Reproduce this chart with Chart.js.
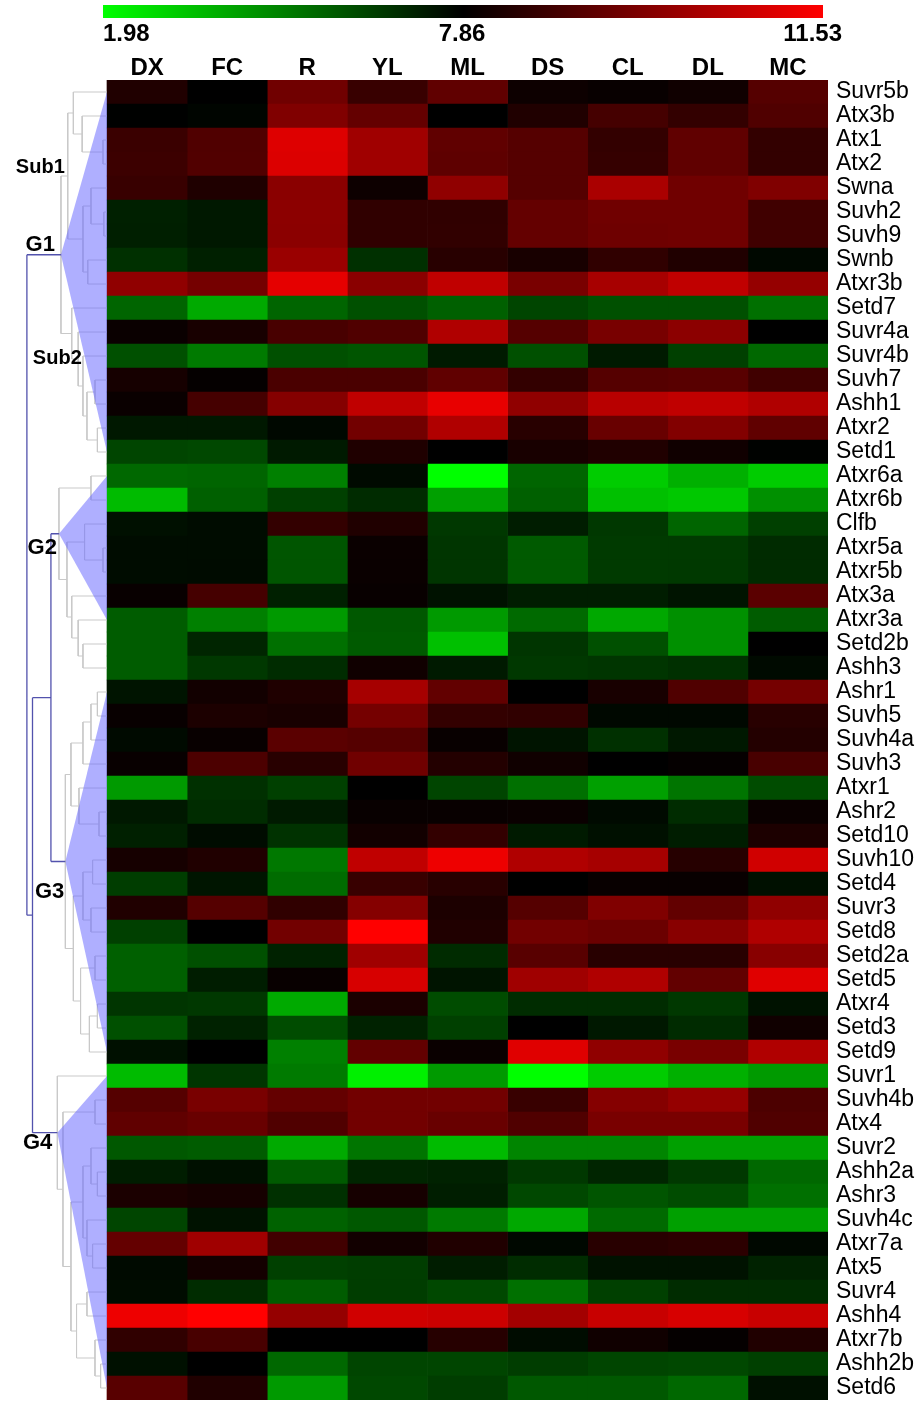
<!DOCTYPE html>
<html>
<head>
<meta charset="utf-8">
<script src="https://cdn.jsdelivr.net/npm/chart.js@4.4.1/dist/chart.umd.min.js"></script>
<style>
  html, body { margin: 0; padding: 0; background: #fff; }
  #wrap { position: relative; width: 924px; height: 1402px; font-family: Arial, "Liberation Sans", sans-serif; }
  #heatmap { position: absolute; left: 0; top: 0; }
  #scaleBar { position: absolute; left: 103px; top: 5px; width: 720px; height: 13px;
              background: linear-gradient(to right, #00ff00, #000000 50%, #ff0000); }
  .scaleLbl { position: absolute; top: 20px; font-weight: bold; font-size: 24px; line-height: 26px; color: #000; }
</style>
</head>
<body>
<div id="wrap">
  <canvas id="heatmap" width="924" height="1402"></canvas>
  <div id="scaleBar"></div>
  <div class="scaleLbl" style="left:103px">1.98</div>
  <div class="scaleLbl" style="left:462px; transform:translateX(-50%)">7.86</div>
  <div class="scaleLbl" style="right:82px">11.53</div>
</div>
<script>
// colour scale ends (green -> black -> red)
const vMin = 1.98, vMid = 7.86, vMax = 11.53;

const cols = ['DX', 'FC', 'R', 'YL', 'ML', 'DS', 'CL', 'DL', 'MC'];
const rows = ['Suvr5b', 'Atx3b', 'Atx1', 'Atx2', 'Swna', 'Suvh2', 'Suvh9', 'Swnb', 'Atxr3b', 'Setd7',
  'Suvr4a', 'Suvr4b', 'Suvh7', 'Ashh1', 'Atxr2', 'Setd1', 'Atxr6a', 'Atxr6b', 'Clfb', 'Atxr5a',
  'Atxr5b', 'Atx3a', 'Atxr3a', 'Setd2b', 'Ashh3', 'Ashr1', 'Suvh5', 'Suvh4a', 'Suvh3', 'Atxr1',
  'Ashr2', 'Setd10', 'Suvh10', 'Setd4', 'Suvr3', 'Setd8', 'Setd2a', 'Setd5', 'Atxr4', 'Setd3',
  'Setd9', 'Suvr1', 'Suvh4b', 'Atx4', 'Suvr2', 'Ashh2a', 'Ashr3', 'Suvh4c', 'Atxr7a', 'Atx5',
  'Suvr4', 'Ashh4', 'Atxr7b', 'Ashh2b', 'Setd6'];

// expression values, one array per tissue (same order as rows)
const DX = [8.32, 7.84, 8.70, 8.72, 8.66, 7.12, 7.14, 6.75, 9.93, 5.53,
  8.00, 6.02, 8.17, 8.00, 7.30, 6.26, 5.46, 3.55, 7.49, 7.58,
  7.58, 7.98, 5.73, 5.73, 5.73, 7.40, 7.98, 7.63, 7.98, 4.30,
  7.30, 7.12, 8.17, 6.45, 8.32, 6.38, 5.65, 5.65, 6.64, 6.02,
  7.49, 3.55, 9.08, 9.24, 5.83, 7.20, 8.25, 6.26, 9.30, 7.63,
  7.58, 11.29, 8.55, 7.49, 9.13];
const FC = [7.86, 7.75, 9.01, 9.03, 8.30, 7.30, 7.30, 7.12, 9.55, 3.94,
  8.20, 5.05, 7.93, 8.85, 7.30, 6.20, 5.53, 5.65, 7.58, 7.58,
  7.60, 8.85, 4.91, 7.00, 6.57, 8.12, 8.26, 7.98, 8.95, 6.75,
  6.85, 7.58, 8.32, 7.38, 9.08, 7.86, 6.02, 7.20, 6.57, 7.07,
  7.86, 6.64, 9.60, 9.36, 5.73, 7.49, 8.17, 7.45, 10.16, 8.15,
  6.85, 11.53, 8.90, 7.86, 8.32];
const R = [9.47, 9.70, 11.05, 11.03, 9.85, 9.88, 9.86, 10.08, 11.15, 5.53,
  8.90, 6.02, 8.93, 9.78, 7.68, 7.25, 4.91, 6.38, 8.60, 5.90,
  5.90, 7.12, 4.30, 5.28, 6.85, 8.30, 8.20, 9.16, 8.43, 6.38,
  7.25, 6.70, 5.10, 5.36, 8.55, 9.50, 7.07, 7.98, 3.94, 6.10,
  4.91, 5.05, 9.30, 9.01, 3.94, 5.78, 6.75, 5.60, 8.80, 6.38,
  5.73, 10.00, 7.86, 5.46, 4.30];
const YL = [8.66, 9.30, 10.16, 10.16, 8.05, 8.55, 8.55, 6.75, 9.85, 6.02,
  9.01, 5.90, 8.93, 10.62, 9.50, 8.30, 7.63, 6.88, 8.32, 8.00,
  8.00, 7.98, 5.83, 5.78, 8.09, 10.25, 9.55, 9.08, 9.47, 7.86,
  7.98, 8.12, 10.62, 8.66, 9.78, 11.53, 10.16, 10.96, 8.25, 7.07,
  9.27, 2.33, 9.50, 9.50, 5.16, 7.00, 8.17, 5.83, 8.12, 6.45,
  6.45, 10.85, 7.86, 6.26, 6.20];
const ML = [9.24, 7.86, 9.24, 9.22, 9.93, 8.55, 8.57, 8.43, 10.62, 5.65,
  10.39, 7.25, 9.24, 11.20, 10.39, 7.86, 1.98, 4.17, 6.57, 6.64,
  6.64, 7.45, 4.30, 3.43, 7.25, 9.27, 8.60, 7.98, 8.37, 6.26,
  7.98, 8.60, 11.29, 8.43, 8.26, 8.32, 6.88, 7.40, 6.10, 6.38,
  8.00, 4.30, 9.50, 9.36, 3.55, 7.07, 7.16, 5.05, 8.32, 7.20,
  6.20, 10.80, 8.40, 6.26, 6.45];
const DS = [8.05, 8.32, 9.08, 9.08, 9.08, 9.30, 9.30, 8.20, 9.60, 6.26,
  9.08, 6.02, 8.60, 9.93, 8.43, 8.20, 5.53, 5.65, 7.20, 5.78,
  5.78, 7.20, 5.42, 6.64, 6.57, 7.86, 8.55, 7.40, 8.09, 5.28,
  8.00, 7.25, 10.39, 7.86, 9.08, 9.50, 9.13, 10.16, 6.85, 7.86,
  11.08, 1.98, 8.66, 9.01, 4.80, 6.57, 6.20, 3.99, 7.68, 6.85,
  5.28, 10.20, 7.58, 6.45, 5.83];
const CL = [7.98, 8.85, 8.60, 8.62, 10.30, 9.47, 9.45, 8.55, 10.27, 6.02,
  9.58, 7.25, 9.08, 10.51, 9.36, 8.32, 3.15, 3.43, 6.57, 6.52,
  6.52, 7.20, 3.99, 6.02, 6.64, 8.20, 7.68, 6.75, 7.86, 4.17,
  7.63, 7.49, 10.25, 7.98, 9.70, 9.40, 8.43, 10.39, 6.85, 7.30,
  9.93, 3.15, 9.78, 9.60, 4.80, 7.00, 5.90, 5.42, 8.43, 7.45,
  6.38, 10.74, 8.09, 6.26, 5.83];
const DL = [8.09, 8.60, 9.24, 9.24, 9.47, 9.47, 9.47, 8.32, 10.62, 6.02,
  9.88, 6.38, 9.13, 10.62, 9.73, 8.09, 3.80, 3.25, 5.53, 6.52,
  6.54, 7.40, 4.54, 4.54, 6.75, 9.01, 7.68, 7.30, 7.93, 5.16,
  6.85, 7.20, 8.40, 7.98, 9.27, 9.82, 8.43, 9.27, 6.57, 6.88,
  9.60, 3.80, 10.00, 9.60, 4.17, 6.57, 6.10, 4.17, 8.50, 7.45,
  6.85, 10.96, 7.93, 6.20, 5.46];
const MC = [9.08, 9.01, 8.60, 8.60, 9.70, 8.78, 8.78, 7.68, 10.00, 5.28,
  7.86, 5.46, 8.78, 10.39, 9.24, 7.82, 3.15, 4.54, 6.38, 6.88,
  6.88, 9.16, 5.73, 7.86, 7.63, 9.55, 8.43, 8.37, 8.90, 6.10,
  8.00, 8.26, 10.85, 7.49, 9.93, 10.39, 9.82, 11.08, 7.45, 8.09,
  10.39, 4.30, 8.95, 9.01, 4.17, 5.46, 5.28, 4.17, 7.68, 7.07,
  6.85, 10.74, 8.32, 6.38, 7.49];
const colValues = [DX, FC, R, YL, ML, DS, CL, DL, MC];

// dendrogram: n(height, upper child, lower child, name); root height = 1
const n = (h, a, b, name) => ({ h, kids: [a, b], name });
const sub1 = n(0.49,
  n(0.42, 'Suvr5b', n(0.31, 'Atx3b', n(0.05, 'Atx1', 'Atx2'))),
  n(0.30, n(0.20, 'Swna', n(0.04, 'Suvh2', 'Suvh9')), n(0.24, 'Swnb', 'Atxr3b')), 'Sub1');
const sub2 = n(0.44, 'Setd7', n(0.36, 'Suvr4a', n(0.30, 'Suvr4b',
  n(0.25, n(0.15, 'Suvh7', 'Ashh1'), n(0.12, 'Atxr2', 'Setd1')))), 'Sub2');
const g1 = n(0.575, sub1, sub2, 'G1');
const g2 = n(0.60, n(0.20, 'Atxr6a', 'Atxr6b'),
  n(0.50, n(0.28, 'Clfb', n(0.05, 'Atxr5a', 'Atxr5b')),
    n(0.44, 'Atx3a', n(0.36, 'Atxr3a', n(0.30, 'Setd2b', 'Ashh3')))), 'G2');
const g3 = n(0.52,
  n(0.45, n(0.30, n(0.20, n(0.12, 'Ashr1', 'Suvh5'), 'Suvh4a'), 'Suvh3'),
    n(0.35, 'Atxr1', n(0.10, 'Ashr2', 'Setd10'))),
  n(0.42, n(0.30, n(0.18, 'Suvh10', 'Setd4'), n(0.20, 'Suvr3', 'Setd8')),
    n(0.33, n(0.15, 'Setd2a', 'Setd5'), n(0.22, n(0.12, 'Atxr4', 'Setd3'), 'Setd9'))), 'G3');
const g4 = n(0.62, 'Suvr1', n(0.55, n(0.15, 'Suvh4b', 'Atx4'),
  n(0.45, n(0.30, n(0.20, 'Suvr2', n(0.12, 'Ashh2a', 'Ashr3')), n(0.25, 'Suvh4c', n(0.18, 'Atxr7a', 'Atx5'))),
    n(0.38, n(0.25, 'Suvr4', 'Ashh4'), n(0.15, 'Atxr7b', n(0.08, 'Ashh2b', 'Setd6'))))), 'G4');
const tree = n(1.0, g1, n(0.93, n(0.70, g2, g3, 'B'), g4, 'A'), 'root');

const blueNodes = ['root', 'A', 'B'];
const groups = [
  { name: 'G1', first: 'Suvr5b', last: 'Setd1' },
  { name: 'G2', first: 'Atxr6a', last: 'Atxr3a' },
  { name: 'G3', first: 'Ashr1', last: 'Setd9' },
  { name: 'G4', first: 'Suvr1', last: 'Setd6' }
];
const nodeLabels = [
  { text: 'Sub1', node: 'Sub1', dx: -3, dy: -9, size: 20 },
  { text: 'G1', node: 'G1', dx: -6, dy: -10, size: 22 },
  { text: 'Sub2', node: 'Sub2', dx: 10, dy: 25, size: 20 },
  { text: 'G2', node: 'G2', dx: -2, dy: 14, size: 22 },
  { text: 'G3', node: 'G3', dx: -1, dy: 30, size: 22 },
  { text: 'G4', node: 'G4', dx: -5, dy: 10, size: 22 }
];

function cellColor(v) {
  if (v >= vMid) {
    const t = Math.min(1, (v - vMid) / (vMax - vMid));
    return `rgb(${Math.round(255 * t)},0,0)`;
  }
  const t = Math.min(1, (vMid - v) / (vMid - vMin));
  return `rgb(0,${Math.round(255 * t)},0)`;
}

// walk the tree: node y = middle of its two children, x = -height
const graySeg = [], blueSeg = [], nodePos = {};
function layout(node) {
  if (typeof node === 'string') return { y: rows.indexOf(node), h: 0 };
  const kids = node.kids.map(layout);
  const y = (kids[0].y + kids[1].y) / 2;
  const seg = blueNodes.includes(node.name) ? blueSeg : graySeg;
  seg.push({ x: -node.h, y: kids[0].y }, { x: -node.h, y: kids[1].y }, { x: -node.h, y: null });
  kids.forEach(k => seg.push({ x: -node.h, y: k.y }, { x: -k.h, y: k.y }, { x: -k.h, y: null }));
  if (node.name) nodePos[node.name] = { y, h: node.h };
  return { y, h: node.h };
}
layout(tree);

const lineBase = { type: 'line', indexAxis: 'x', xAxisID: 'x', yAxisID: 'yd', pointRadius: 0,
  pointHoverRadius: 0, tension: 0, spanGaps: false };

const datasets = [];
cols.forEach((c, ci) => {
  datasets.push({
    type: 'bar', label: c, xAxisID: 'x', yAxisID: 'y', order: 5,
    data: rows.map((r, ri) => ({ x: [ci, ci + 1], y: r, v: colValues[ci][ri] })),
    backgroundColor: ctx => cellColor(ctx.raw.v),
    grouped: false, barPercentage: 1, categoryPercentage: 1, borderWidth: 0
  });
});
datasets.push({ ...lineBase, label: 'tree', data: graySeg, borderColor: '#c9c9c9', borderWidth: 1, fill: false, order: 4 });
groups.forEach(g => {
  const p = nodePos[g.name];
  const apex = { x: -p.h, y: p.y };
  datasets.push({ ...lineBase, label: g.name + ' top', data: [apex, { x: 0, y: rows.indexOf(g.first) }],
    borderColor: 'rgba(0,0,0,0)', borderWidth: 0, fill: false, order: 3 });
  datasets.push({ ...lineBase, label: g.name, data: [apex, { x: 0, y: rows.indexOf(g.last) }],
    borderColor: 'rgba(0,0,0,0)', borderWidth: 0, fill: '-1', backgroundColor: 'rgba(110,110,255,0.55)', order: 3 });
});
datasets.push({ ...lineBase, label: 'groups', data: blueSeg, borderColor: '#5252ad', borderWidth: 1.3, fill: false, order: 1 });

const nodeLabelPlugin = {
  id: 'nodeLabels',
  afterDatasetsDraw(chart) {
    const { ctx, scales: { x, yd } } = chart;
    ctx.save();
    ctx.fillStyle = '#000';
    ctx.textAlign = 'right';
    ctx.textBaseline = 'middle';
    nodeLabels.forEach(l => {
      const p = nodePos[l.node];
      ctx.font = `bold ${l.size}px Arial, "Liberation Sans", sans-serif`;
      ctx.fillText(l.text, x.getPixelForValue(-p.h) + l.dx, yd.getPixelForValue(p.y) + l.dy);
    });
    ctx.restore();
  }
};

new Chart(document.getElementById('heatmap'), {
  data: { labels: rows, datasets },
  options: {
    indexAxis: 'y',
    responsive: false,
    animation: false,
    events: [],
    layout: { padding: { left: 0, right: 0, top: 0, bottom: 2 } },
    plugins: { legend: { display: false }, tooltip: { enabled: false } },
    scales: {
      x: {
        type: 'linear', position: 'top', min: -1.3357, max: 9,
        grid: { display: false, drawTicks: false }, border: { display: false },
        afterFit: s => { s.height = 80; },
        afterBuildTicks: s => { s.ticks = cols.map((c, i) => ({ value: i + 0.5 })); },
        ticks: {
          autoSkip: false, maxRotation: 0, padding: 0, color: '#000',
          font: { family: 'Arial, "Liberation Sans", sans-serif', size: 24, weight: 'bold', lineHeight: 1 },
          callback: v => cols[Math.floor(v)]
        }
      },
      y: {
        type: 'category', position: 'right', offset: true,
        grid: { display: false, drawTicks: false }, border: { display: false },
        afterFit: s => { s.width = 96; s.paddingTop = 0; s.paddingBottom = 0; },
        ticks: {
          autoSkip: false, padding: 8, color: '#000',
          font: { family: 'Arial, "Liberation Sans", sans-serif', size: 23 }
        }
      },
      yd: { type: 'linear', display: false, min: -0.5, max: rows.length - 0.5, reverse: true }
    }
  },
  plugins: [nodeLabelPlugin]
});
</script>
</body>
</html>
